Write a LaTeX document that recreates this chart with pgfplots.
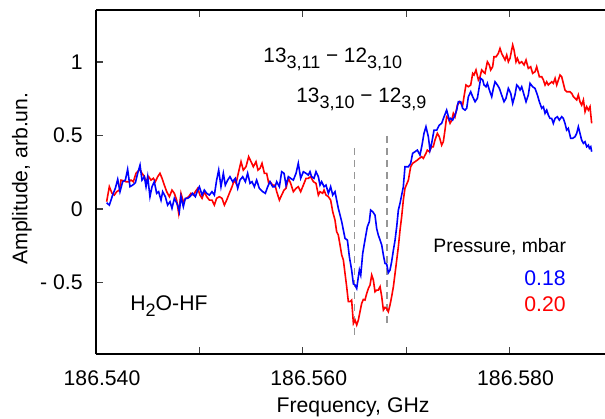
\documentclass[border=0pt]{standalone}
\usepackage{fontspec}
\setmainfont{Liberation Sans}
\usepackage{pgfplots}
\usepackage{pgfplotstable}
\pgfplotsset{compat=1.18}
\definecolor{cblue}{RGB}{0,0,255}
\definecolor{cred}{RGB}{255,0,0}
\definecolor{dgray}{RGB}{150,150,150}
\newcommand{\sub}[1]{\raisebox{-0.3em}{\fontsize{9}{9}\selectfont #1}}

% x: frequency offset in MHz from 186.500 GHz
\pgfplotstableread{
f y
41.03 0.043
41.29 0.027
41.61 0.095
41.87 0.141
42.10 0.202
42.32 0.118
42.58 0.186
42.84 0.197
43.06 0.270
43.29 0.152
43.55 0.163
43.81 0.179
44.03 0.243
44.26 0.299
44.45 0.197
44.68 0.220
44.84 0.152
45.00 0.220
45.22 0.084
45.42 0.152
45.64 0.186
45.87 0.107
46.06 0.118
46.29 0.061
46.45 0.118
46.71 0.084
46.93 0.027
47.16 0.050
47.35 0.005
47.58 0.073
47.74 0.050
47.90 0.027
48.06 -0.018
48.22 0.084
48.45 0.016
48.64 0.073
48.87 0.073
49.09 0.084
49.35 0.107
49.61 0.084
49.84 0.129
50.00 0.152
50.26 0.095
50.48 0.129
50.71 0.107
50.97 0.095
51.22 0.118
51.45 0.095
51.67 0.197
51.87 0.265
52.09 0.152
52.32 0.243
52.51 0.163
52.74 0.197
52.96 0.220
53.22 0.186
53.48 0.209
53.71 0.141
53.93 0.197
54.19 0.220
54.45 0.186
54.67 0.243
54.90 0.175
55.09 0.186
55.32 0.152
55.54 0.197
55.80 0.141
56.13 0.118
56.38 0.107
56.61 0.152
56.83 0.186
57.09 0.152
57.32 0.152
57.48 0.186
57.74 0.152
57.96 0.254
58.19 0.243
58.38 0.163
58.61 0.220
58.83 0.209
59.09 0.197
59.35 0.243
59.57 0.311
59.80 0.209
60.06 0.254
60.32 0.243
60.54 0.231
60.70 0.254
60.86 0.220
61.09 0.209
61.28 0.254
61.51 0.220
61.67 0.163
61.83 0.186
62.06 0.152
62.25 0.163
62.48 0.107
62.70 0.152
62.90 0.095
63.12 0.118
63.28 0.061
63.44 0.005
63.61 -0.041
63.77 -0.086
63.93 -0.143
64.09 -0.200
64.32 -0.211
64.51 -0.324
64.73 -0.415
64.90 -0.510
65.06 -0.517
65.22 -0.540
65.38 -0.460
65.48 -0.415
65.61 -0.449
65.80 -0.302
66.02 -0.211
66.25 -0.120
66.44 -0.086
66.57 -0.007
66.77 -0.018
66.99 -0.041
67.15 -0.132
67.31 -0.177
67.48 -0.211
67.64 -0.245
67.80 -0.313
67.96 -0.370
68.12 -0.374
68.28 -0.433
68.44 -0.415
68.60 -0.358
68.77 -0.279
68.93 -0.211
69.09 -0.120
69.25 -0.007
69.41 0.039
69.73 0.152
69.89 0.288
70.22 0.288
70.44 0.311
70.63 0.379
70.86 0.390
71.09 0.401
71.34 0.367
71.51 0.424
71.73 0.515
71.92 0.560
72.15 0.492
72.31 0.401
72.47 0.447
72.70 0.537
72.96 0.537
73.21 0.571
73.44 0.583
73.67 0.628
73.92 0.673
74.18 0.605
74.31 0.617
74.50 0.605
74.73 0.639
74.89 0.673
75.05 0.730
75.28 0.730
75.47 0.685
75.70 0.673
75.86 0.685
76.02 0.764
76.25 0.798
76.44 0.764
76.67 0.730
76.89 0.753
77.08 0.832
77.21 0.889
77.41 0.878
77.54 0.844
77.73 0.832
77.86 0.855
78.05 0.810
78.28 0.764
78.44 0.821
78.60 0.866
78.83 0.844
79.02 0.821
79.24 0.776
79.47 0.730
79.66 0.753
79.89 0.821
80.12 0.787
80.31 0.719
80.53 0.776
80.70 0.844
80.86 0.832
81.02 0.810
81.18 0.832
81.41 0.776
81.60 0.730
81.82 0.776
81.99 0.855
82.24 0.832
82.47 0.821
82.70 0.776
82.89 0.730
83.12 0.685
83.28 0.696
83.44 0.651
83.60 0.673
83.76 0.639
83.92 0.617
84.08 0.617
84.24 0.583
84.41 0.617
84.63 0.628
84.82 0.605
85.05 0.628
85.21 0.617
85.37 0.583
85.53 0.537
85.69 0.549
85.92 0.481
86.11 0.481
86.34 0.492
86.50 0.515
86.66 0.560
86.82 0.515
86.98 0.469
87.15 0.447
87.31 0.458
87.47 0.424
87.63 0.435
87.73 0.413
87.86 0.424
87.95 0.390
}\bluedata

\pgfplotstableread{
f y
41.03 0.050
41.29 0.152
41.55 0.107
41.77 0.095
42.00 0.118
42.26 0.129
42.42 0.197
42.64 0.193
42.90 0.186
43.16 0.186
43.39 0.197
43.61 0.186
43.87 0.243
44.03 0.254
44.26 0.270
44.45 0.243
44.68 0.220
44.84 0.186
45.10 0.220
45.32 0.197
45.55 0.209
45.74 0.186
45.97 0.220
46.19 0.243
46.39 0.209
46.61 0.163
46.84 0.118
47.10 0.084
47.35 0.129
47.58 0.107
47.80 0.061
48.00 -0.029
48.22 0.107
48.45 0.050
48.71 0.073
48.97 0.084
49.19 0.107
49.42 0.095
49.61 0.118
49.84 0.141
50.06 0.095
50.26 0.073
50.48 0.118
50.71 0.084
50.97 0.061
51.22 0.061
51.45 0.027
51.67 0.073
51.93 0.084
52.19 0.073
52.42 0.027
52.64 0.061
52.90 0.107
53.16 0.152
53.38 0.197
53.55 0.175
53.80 0.254
54.03 0.322
54.25 0.265
54.51 0.288
54.77 0.356
55.00 0.322
55.22 0.288
55.48 0.322
55.67 0.265
55.87 0.277
56.06 0.311
56.29 0.243
56.51 0.243
56.71 0.175
56.83 0.186
57.09 0.163
57.32 0.163
57.48 0.118
57.74 0.061
57.96 0.095
58.19 0.129
58.38 0.141
58.61 0.209
58.83 0.175
59.09 0.118
59.35 0.141
59.57 0.152
59.80 0.118
60.06 0.163
60.32 0.209
60.54 0.209
60.77 0.220
61.03 0.186
61.28 0.175
61.51 0.095
61.67 0.118
61.93 0.107
62.06 0.129
62.25 0.095
62.48 0.084
62.70 0.061
62.90 -0.018
63.12 -0.075
63.28 -0.154
63.44 -0.177
63.61 -0.245
63.77 -0.313
63.93 -0.347
64.09 -0.438
64.25 -0.528
64.41 -0.630
64.57 -0.630
64.73 -0.619
64.90 -0.778
65.06 -0.755
65.22 -0.789
65.38 -0.755
65.54 -0.698
65.70 -0.642
65.86 -0.615
66.02 -0.619
66.19 -0.574
66.35 -0.540
66.51 -0.517
66.67 -0.449
66.83 -0.483
66.99 -0.562
67.15 -0.551
67.31 -0.551
67.48 -0.528
67.64 -0.596
67.80 -0.687
67.96 -0.669
68.12 -0.676
68.28 -0.698
68.44 -0.653
68.60 -0.596
68.77 -0.528
68.93 -0.438
69.09 -0.347
69.25 -0.256
69.41 -0.143
69.57 -0.052
69.73 0.061
69.89 0.141
70.22 0.197
70.44 0.288
70.63 0.311
70.86 0.322
71.09 0.333
71.28 0.345
71.51 0.356
71.67 0.345
71.92 0.379
72.05 0.401
72.25 0.390
72.47 0.424
72.63 0.424
72.79 0.469
73.02 0.515
73.21 0.492
73.44 0.435
73.60 0.458
73.76 0.537
73.92 0.628
74.09 0.617
74.25 0.583
74.41 0.605
74.57 0.651
74.73 0.628
74.96 0.707
75.15 0.730
75.28 0.719
75.47 0.707
75.60 0.764
75.79 0.844
76.02 0.832
76.25 0.844
76.44 0.923
76.57 0.912
76.76 0.946
76.99 0.878
77.15 0.900
77.31 0.946
77.47 0.934
77.63 0.923
77.86 1.002
78.05 0.980
78.18 0.946
78.37 0.968
78.50 1.036
78.70 1.036
78.92 1.059
79.08 1.093
79.24 1.059
79.41 1.036
79.57 1.014
79.73 1.048
79.89 1.002
80.05 1.025
80.21 1.082
80.31 1.116
80.44 1.082
80.63 1.002
80.76 1.025
80.95 0.991
81.18 1.002
81.41 0.980
81.60 1.014
81.82 0.957
82.05 0.968
82.24 0.923
82.47 0.934
82.63 0.968
82.89 0.900
83.12 0.900
83.28 0.878
83.44 0.844
83.60 0.866
83.76 0.844
83.92 0.855
84.08 0.866
84.24 0.855
84.41 0.889
84.57 0.844
84.73 0.878
84.89 0.912
85.05 0.900
85.21 0.855
85.37 0.810
85.53 0.798
85.86 0.798
86.02 0.787
86.18 0.764
86.34 0.753
86.50 0.742
86.66 0.776
86.82 0.730
86.98 0.707
87.15 0.742
87.31 0.662
87.47 0.696
87.63 0.673
87.79 0.696
87.95 0.583
}\reddata

\begin{document}
\fontsize{10.6}{12.7}\selectfont
\begin{tikzpicture}
\begin{axis}[
  name=ax,
  scale only axis,
  width=254.5pt, height=172pt,
  xmin=40, xmax=89.24, ymin=-0.986, ymax=1.354,
  axis x line*=box, axis y line*=left,
  axis line style={black, line width=0.8pt},
  tick align=inside,
  major tick length=3.5pt,
  tick style={black!75, line width=0.6pt},
  xtick={40,50,60,70,80},
  xticklabels={186.540,,186.560,,186.580},
  ytick={-0.5,0,0.5,1},
  yticklabels={- 0.5,0,0.5,1},
  xticklabel style={anchor=base, yshift=-15.5pt, xshift=3pt},
  yticklabel style={anchor=east, inner sep=0pt, xshift=-6.5pt},
  every axis x label/.style={at={(axis description cs:0.505,-0.1715)}, anchor=base},
  every axis y label/.style={at={(axis description cs:-0.1454,0.51)}, rotate=90, anchor=center},
  xlabel={Frequency, GHz},
  ylabel={Amplitude, arb.un.},
]
\addplot[dgray, line width=0.6pt, dash pattern=on 3.5pt off 2.5pt] coordinates {(65.0,0.415) (65.0,-0.878)};
\addplot[dgray, line width=0.6pt, dash pattern=on 3.5pt off 2.5pt] coordinates {(68.15,0.497) (68.15,-0.803)};
\addplot[cred, line width=0.8pt] table[x=f, y=y] {\reddata};
\addplot[cblue, line width=0.8pt] table[x=f, y=y] {\bluedata};
\node[anchor=base west, inner sep=0pt, font=\fontsize{10.4}{12}\selectfont] at (axis cs:56.16,1.0) {13\sub{3,11} − 12\sub{3,10}};
\node[anchor=base west, inner sep=0pt, font=\fontsize{10.4}{12}\selectfont] at (axis cs:59.35,0.728) {13\sub{3,10} − 12\sub{3,9}};
\node[anchor=base west, inner sep=0pt] at (axis cs:43.29,-0.687) {H\sub{2}O-HF};
\node[anchor=base west, inner sep=0pt, font=\fontsize{9.7}{11.6}\selectfont] at (axis cs:72.60,-0.293) {Pressure, mbar};
\node[anchor=base east, inner sep=0pt, text=cblue] at (axis cs:85.47,-0.517) {0.18};
\node[anchor=base east, inner sep=0pt, text=cred] at (axis cs:85.47,-0.694) {0.20};
\end{axis}
\pgfresetboundingbox
\path ([xshift=-48pt, yshift=-32pt]ax.south west) rectangle ([xshift=254.5pt, yshift=177pt]ax.south west);
\end{tikzpicture}
\end{document}
